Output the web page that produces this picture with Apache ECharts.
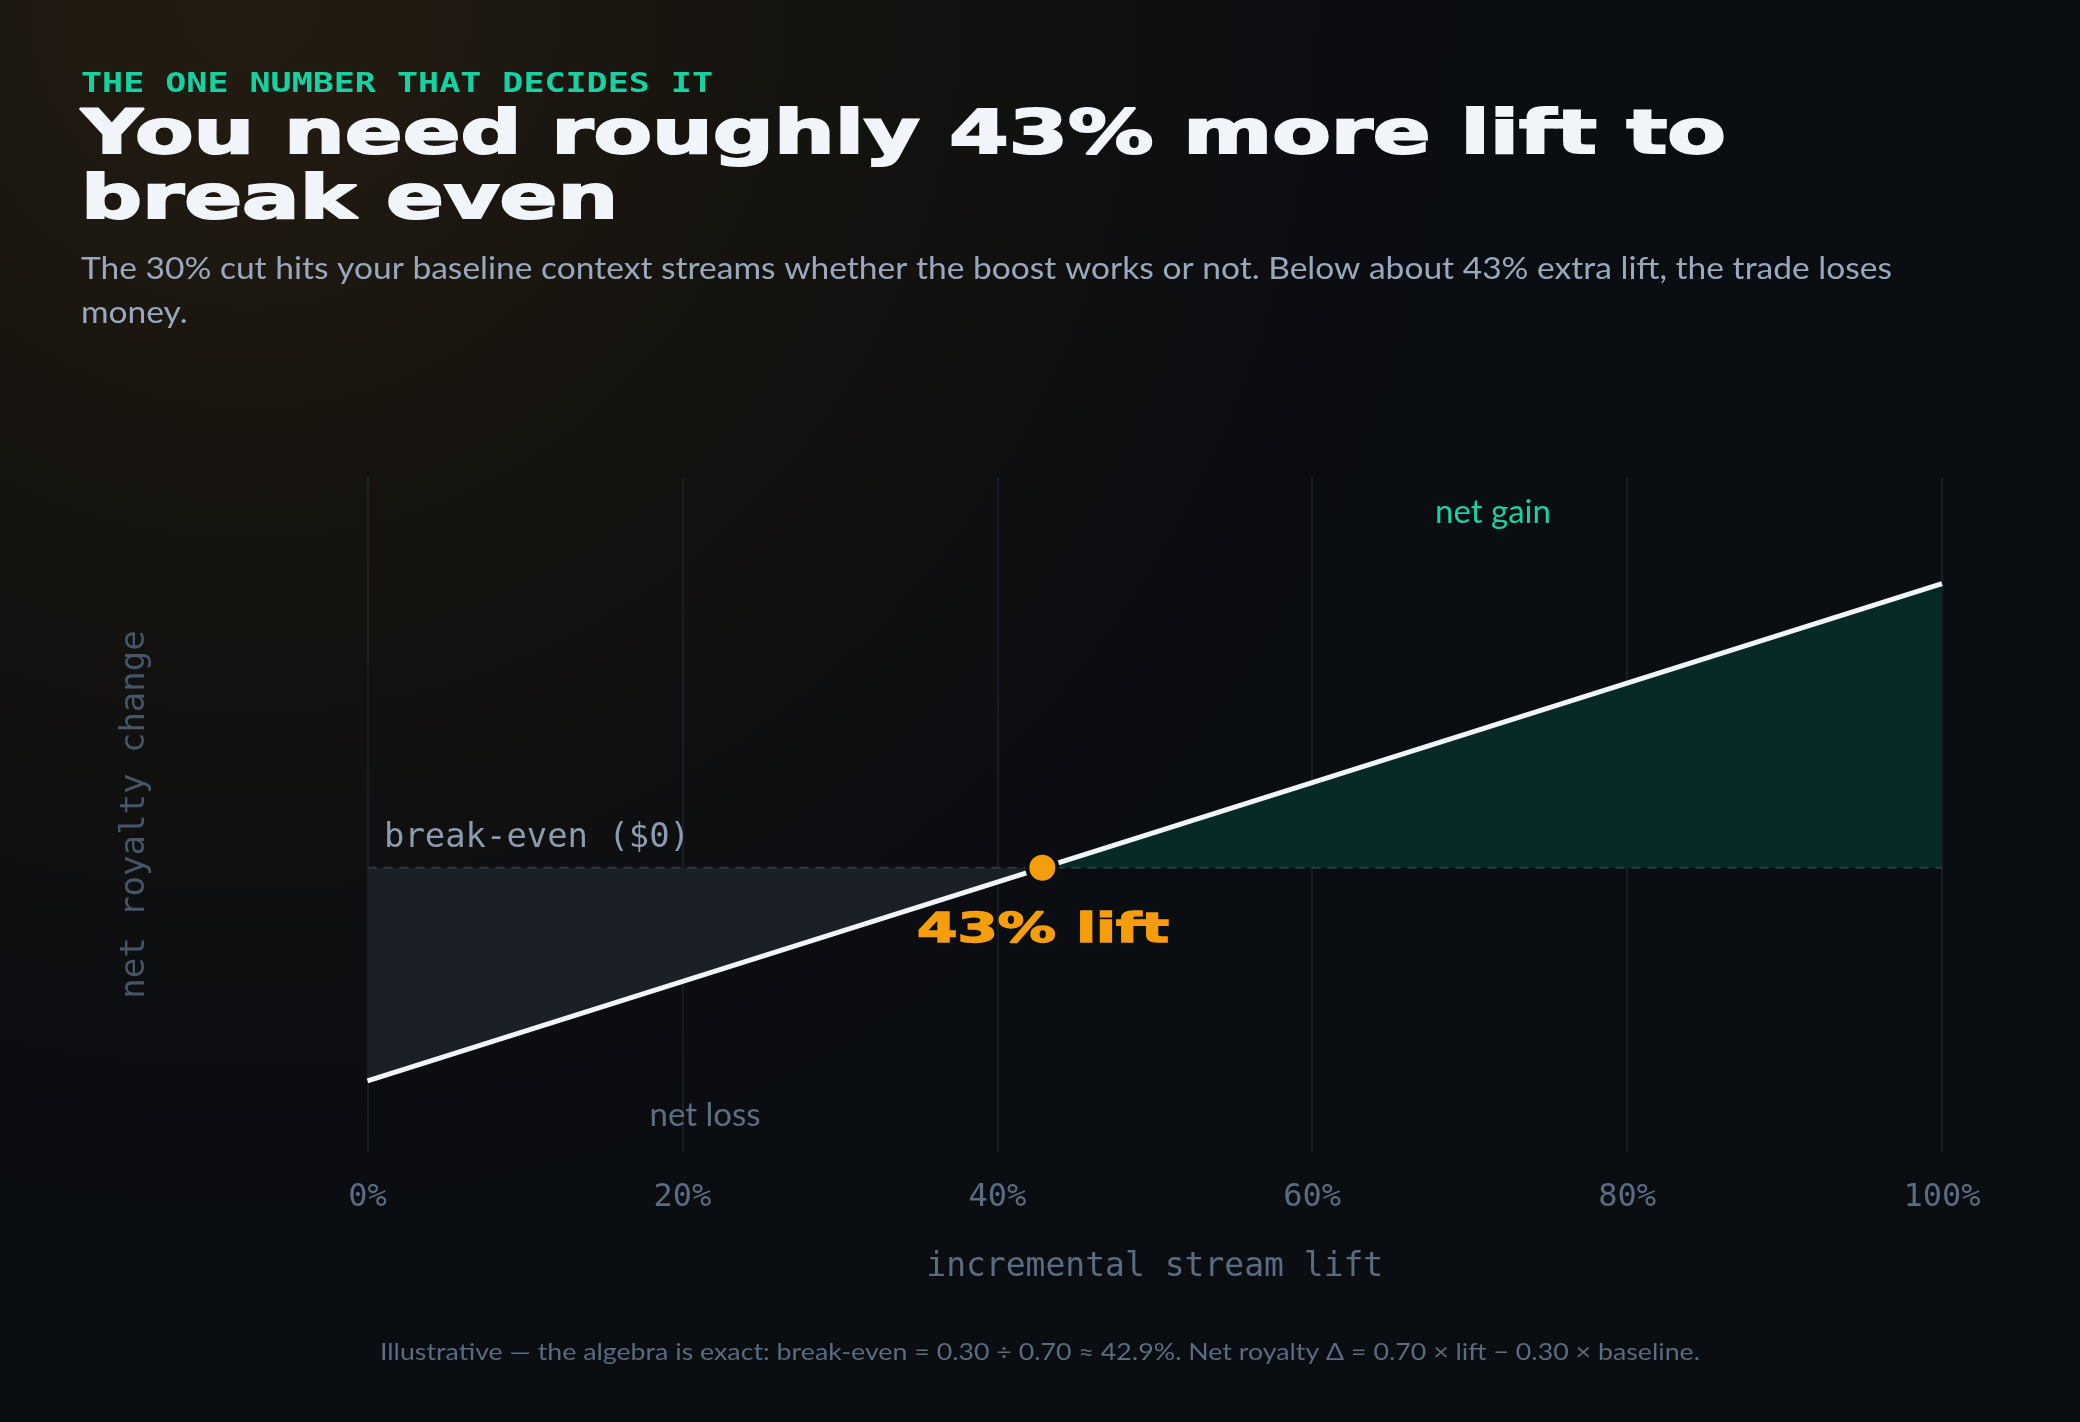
<!DOCTYPE html>
<html>
<head>
<meta charset="utf-8">
<script src="https://cdn.jsdelivr.net/npm/echarts@6/dist/echarts.min.js"></script>
<style>
  html, body { margin:0; padding:0; background:#0a0d12; }
  #chart { width:2080px; height:1422px; }
</style>
</head>
<body>
<div id="chart"></div>
<script>
// ---- data ----
const liftPoints = [0, 0.4286, 1.0];          // incremental stream lift
const netRoyalty = [-0.30, 0, 0.40];          // net royalty change (share of baseline)
const breakEvenLift = 0.4286;
const xTickValues = [0, 0.2, 0.4, 0.6, 0.8, 1.0];
const xTickLabels = ['0%', '20%', '40%', '60%', '80%', '100%'];

const eyebrow = 'THE ONE NUMBER THAT DECIDES IT';
const titleLines = ['You need roughly 43% more lift to', 'break even'];
const subtitleLines = ['The 30% cut hits your baseline context streams whether the boost works or not. Below about 43% extra lift, the trade loses', 'money.'];
const footnote = 'Illustrative \u2014 the algebra is exact: break-even = 0.30 \u00f7 0.70 \u2248 42.9%. Net royalty \u0394 = 0.70 \u00d7 lift \u2212 0.30 \u00d7 baseline.';

// ---- helpers ----
const mctx = document.createElement('canvas').getContext('2d');
function fitScale(text, weight, size, family, target) {
  mctx.font = weight + ' ' + size + 'px ' + family;
  return target / mctx.measureText(text).width;
}
function txt(o) {
  const style = {
    text: o.text, fill: o.color,
    fontSize: o.size, fontFamily: o.family, fontWeight: o.weight || 'normal',
    textAlign: o.align || 'left', align: o.align || 'left',
    textVerticalAlign: 'middle', verticalAlign: 'middle'
  };
  if (o.stroke) { style.stroke = o.color; style.lineWidth = o.stroke; }
  return { type: 'text', x: o.x, y: o.y, scaleX: o.scaleX || 1, z: 100, style };
}

const SANS = 'Lato, "Noto Sans", sans-serif';
const MONO = '"DejaVu Sans Mono", monospace';
const HEAVY = '"DejaVu Sans", sans-serif';

const titleScale = fitScale(titleLines[0], 'bold', 60, HEAVY, 1645);
const eyebrowScale = fitScale(eyebrow, 'bold', 26, MONO, 632);
const subScale = fitScale(subtitleLines[0], 'normal', 31, SANS, 1811);
const footScale = fitScale(footnote, 'normal', 23, SANS, 1320);
const liftLabel = Math.round(breakEvenLift * 100) + '% lift';
const liftScale = fitScale(liftLabel, 'bold', 41, HEAVY, 252);
const beScale = fitScale('break-even ($0)', 'normal', 33, MONO, 306);

const lossData = [[liftPoints[0], netRoyalty[0]], [liftPoints[1], netRoyalty[1]]];
const gainData = [[liftPoints[1], netRoyalty[1]], [liftPoints[2], netRoyalty[2]]];
const lineData = liftPoints.map((v, i) => [v, netRoyalty[i]]);
const zeroData = [[xTickValues[0], 0], [xTickValues[xTickValues.length - 1], 0]];

const chart = echarts.init(document.getElementById('chart'), null, { renderer: 'canvas' });
chart.setOption({
  backgroundColor: {
    type: 'radial', x: 0.12, y: 0, r: 0.95,
    colorStops: [
      { offset: 0, color: '#241c11' },
      { offset: 0.4, color: '#15130f' },
      { offset: 0.85, color: '#0b0d12' },
      { offset: 1, color: '#0a0d12' }
    ]
  },
  animation: false,
  grid: { left: 367.5, right: 138, top: 477, bottom: 270, containLabel: false },
  xAxis: {
    type: 'value', min: 0, max: 1, interval: 0.2,
    axisLine: { show: false }, axisTick: { show: false },
    splitLine: { show: true, lineStyle: { color: '#1b232e', width: 1.5 } },
    axisLabel: {
      color: '#5b6b80', fontFamily: MONO, fontSize: 32, margin: 30,
      formatter: v => xTickLabels[xTickValues.findIndex(t => Math.abs(t - v) < 1e-6)] || ''
    },
    name: 'incremental stream lift', nameLocation: 'middle', nameGap: 99,
    nameTextStyle: { color: '#5b6b80', fontFamily: MONO, fontSize: 33 }
  },
  yAxis: {
    type: 'value', min: -0.4, max: 0.55,
    axisLine: { show: false }, axisTick: { show: false }, axisLabel: { show: false },
    splitLine: { show: false },
    name: 'net royalty change', nameLocation: 'middle', nameRotate: 90, nameGap: 215,
    nameTextStyle: { color: '#46566a', fontFamily: MONO, fontSize: 34 }
  },
  series: [
    { type: 'line', data: lossData, symbol: 'none', z: 1, silent: true,
      lineStyle: { width: 0 }, areaStyle: { color: '#1b1f26', opacity: 1 } },
    { type: 'line', data: gainData, symbol: 'none', z: 1, silent: true,
      lineStyle: { width: 0 }, areaStyle: { color: '#072a27', opacity: 1 } },
    { type: 'line', data: zeroData, symbol: 'none', z: 2, silent: true,
      lineStyle: { color: '#2b3848', width: 2, type: [9, 7] } },
    { type: 'line', data: lineData, symbol: 'none', z: 3, silent: true,
      lineStyle: { color: '#f1f4f8', width: 5 } },
    { type: 'scatter', data: [[breakEvenLift, 0]], symbol: 'circle', symbolSize: 30, z: 4,
      itemStyle: { color: '#f59e0b', borderColor: '#0a0d12', borderWidth: 4, opacity: 1 } }
  ],
  graphic: [
    txt({ x: 81, y: 85, text: eyebrow, color: '#17d1a0', size: 26, family: MONO, weight: 'bold', scaleX: eyebrowScale }),
    txt({ x: 81, y: 137, text: titleLines[0], color: '#f1f4f9', size: 60, family: HEAVY, weight: 'bold', scaleX: titleScale, stroke: 2 }),
    txt({ x: 81, y: 202, text: titleLines[1], color: '#f1f4f9', size: 60, family: HEAVY, weight: 'bold', scaleX: titleScale, stroke: 2 }),
    txt({ x: 81, y: 269, text: subtitleLines[0], color: '#9aa8bd', size: 31, family: SANS, scaleX: subScale }),
    txt({ x: 81, y: 313, text: subtitleLines[1], color: '#9aa8bd', size: 31, family: SANS, scaleX: subScale }),
    txt({ x: 384, y: 838, text: 'break-even ($0)', color: '#8b9bb0', size: 33, family: MONO, scaleX: beScale }),
    txt({ x: 1043, y: 931, text: liftLabel, color: '#f59e0b', size: 41, family: HEAVY, weight: 'bold', align: 'center', scaleX: liftScale, stroke: 1.5 }),
    txt({ x: 1493, y: 512, text: 'net gain', color: '#14d4a4', size: 33, family: SANS, align: 'center' }),
    txt({ x: 705, y: 1115, text: 'net loss', color: '#5d6d82', size: 33, family: SANS, align: 'center' }),
    txt({ x: 1040, y: 1353, text: footnote, color: '#5b6b80', size: 23, family: SANS, align: 'center', scaleX: footScale })
  ]
});
</script>
</body>
</html>
